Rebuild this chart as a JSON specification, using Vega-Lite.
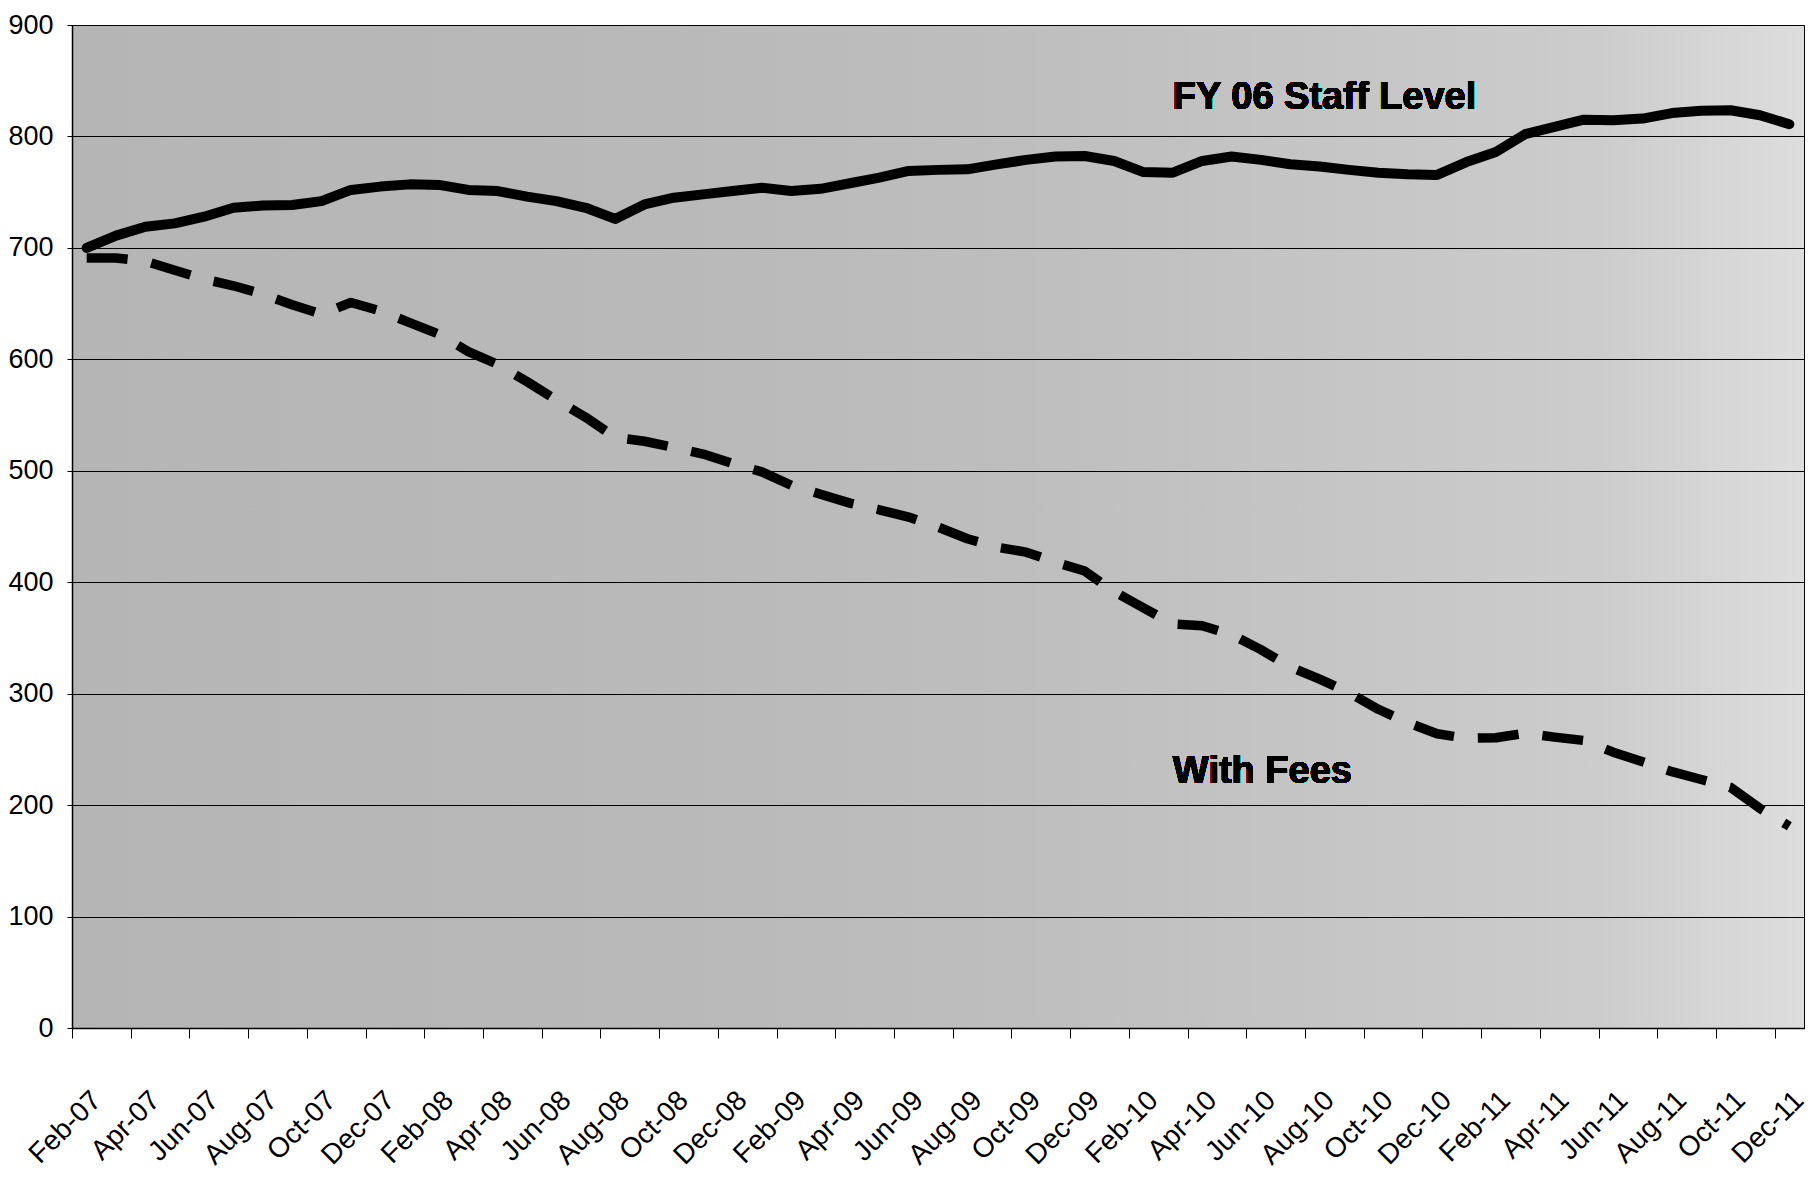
{
  "$schema": "https://vega.github.io/schema/vega-lite/v6.json",
  "width": 1732,
  "height": 1003,
  "autosize": {"type": "none"},
  "padding": {"left": 72, "top": 25, "right": 9, "bottom": 159},
  "background": "#ffffff",
  "config": {
    "view": {
      "stroke": "#000000",
      "strokeWidth": 1,
      "fill": {
        "gradient": "linear",
        "x1": 0, "y1": 0, "x2": 1, "y2": 0,
        "stops": [
          {"offset": 0, "color": "#b5b5b5"},
          {"offset": 0.35, "color": "#b9b9b9"},
          {"offset": 0.55, "color": "#bebebe"},
          {"offset": 0.7, "color": "#c4c4c4"},
          {"offset": 0.88, "color": "#cccccc"},
          {"offset": 1, "color": "#dddddd"}
        ]
      }
    }
  },
  "datasets": {
    "staff": [
      {"month": "Feb-07", "series": "FY 06 Staff Level", "value": 700},
      {"month": "Mar-07", "series": "FY 06 Staff Level", "value": 711},
      {"month": "Apr-07", "series": "FY 06 Staff Level", "value": 719},
      {"month": "May-07", "series": "FY 06 Staff Level", "value": 722},
      {"month": "Jun-07", "series": "FY 06 Staff Level", "value": 728},
      {"month": "Jul-07", "series": "FY 06 Staff Level", "value": 736},
      {"month": "Aug-07", "series": "FY 06 Staff Level", "value": 738},
      {"month": "Sep-07", "series": "FY 06 Staff Level", "value": 738.5},
      {"month": "Oct-07", "series": "FY 06 Staff Level", "value": 742},
      {"month": "Nov-07", "series": "FY 06 Staff Level", "value": 752},
      {"month": "Dec-07", "series": "FY 06 Staff Level", "value": 755},
      {"month": "Jan-08", "series": "FY 06 Staff Level", "value": 757},
      {"month": "Feb-08", "series": "FY 06 Staff Level", "value": 756.5},
      {"month": "Mar-08", "series": "FY 06 Staff Level", "value": 752},
      {"month": "Apr-08", "series": "FY 06 Staff Level", "value": 751},
      {"month": "May-08", "series": "FY 06 Staff Level", "value": 746},
      {"month": "Jun-08", "series": "FY 06 Staff Level", "value": 742},
      {"month": "Jul-08", "series": "FY 06 Staff Level", "value": 736},
      {"month": "Aug-08", "series": "FY 06 Staff Level", "value": 726},
      {"month": "Sep-08", "series": "FY 06 Staff Level", "value": 739},
      {"month": "Oct-08", "series": "FY 06 Staff Level", "value": 745},
      {"month": "Nov-08", "series": "FY 06 Staff Level", "value": 748},
      {"month": "Dec-08", "series": "FY 06 Staff Level", "value": 751},
      {"month": "Jan-09", "series": "FY 06 Staff Level", "value": 754},
      {"month": "Feb-09", "series": "FY 06 Staff Level", "value": 751},
      {"month": "Mar-09", "series": "FY 06 Staff Level", "value": 753},
      {"month": "Apr-09", "series": "FY 06 Staff Level", "value": 758},
      {"month": "May-09", "series": "FY 06 Staff Level", "value": 763},
      {"month": "Jun-09", "series": "FY 06 Staff Level", "value": 769},
      {"month": "Jul-09", "series": "FY 06 Staff Level", "value": 770},
      {"month": "Aug-09", "series": "FY 06 Staff Level", "value": 770.5},
      {"month": "Sep-09", "series": "FY 06 Staff Level", "value": 775},
      {"month": "Oct-09", "series": "FY 06 Staff Level", "value": 779},
      {"month": "Nov-09", "series": "FY 06 Staff Level", "value": 782},
      {"month": "Dec-09", "series": "FY 06 Staff Level", "value": 782.5},
      {"month": "Jan-10", "series": "FY 06 Staff Level", "value": 778},
      {"month": "Feb-10", "series": "FY 06 Staff Level", "value": 768},
      {"month": "Mar-10", "series": "FY 06 Staff Level", "value": 767.5},
      {"month": "Apr-10", "series": "FY 06 Staff Level", "value": 778},
      {"month": "May-10", "series": "FY 06 Staff Level", "value": 782},
      {"month": "Jun-10", "series": "FY 06 Staff Level", "value": 779},
      {"month": "Jul-10", "series": "FY 06 Staff Level", "value": 775},
      {"month": "Aug-10", "series": "FY 06 Staff Level", "value": 773},
      {"month": "Sep-10", "series": "FY 06 Staff Level", "value": 770},
      {"month": "Oct-10", "series": "FY 06 Staff Level", "value": 767.5},
      {"month": "Nov-10", "series": "FY 06 Staff Level", "value": 766},
      {"month": "Dec-10", "series": "FY 06 Staff Level", "value": 765.5},
      {"month": "Jan-11", "series": "FY 06 Staff Level", "value": 777},
      {"month": "Feb-11", "series": "FY 06 Staff Level", "value": 786},
      {"month": "Mar-11", "series": "FY 06 Staff Level", "value": 802},
      {"month": "Apr-11", "series": "FY 06 Staff Level", "value": 808.5},
      {"month": "May-11", "series": "FY 06 Staff Level", "value": 815},
      {"month": "Jun-11", "series": "FY 06 Staff Level", "value": 814.5},
      {"month": "Jul-11", "series": "FY 06 Staff Level", "value": 816},
      {"month": "Aug-11", "series": "FY 06 Staff Level", "value": 821},
      {"month": "Sep-11", "series": "FY 06 Staff Level", "value": 823},
      {"month": "Oct-11", "series": "FY 06 Staff Level", "value": 823.5},
      {"month": "Nov-11", "series": "FY 06 Staff Level", "value": 819},
      {"month": "Dec-11", "series": "FY 06 Staff Level", "value": 811},
      {"month": "Feb-07", "series": "With Fees", "value": 691},
      {"month": "Mar-07", "series": "With Fees", "value": 691},
      {"month": "Apr-07", "series": "With Fees", "value": 688},
      {"month": "May-07", "series": "With Fees", "value": 680},
      {"month": "Jun-07", "series": "With Fees", "value": 672},
      {"month": "Jul-07", "series": "With Fees", "value": 666},
      {"month": "Aug-07", "series": "With Fees", "value": 658.5},
      {"month": "Sep-07", "series": "With Fees", "value": 649},
      {"month": "Oct-07", "series": "With Fees", "value": 640.5},
      {"month": "Nov-07", "series": "With Fees", "value": 651},
      {"month": "Dec-07", "series": "With Fees", "value": 643.5},
      {"month": "Jan-08", "series": "With Fees", "value": 633},
      {"month": "Feb-08", "series": "With Fees", "value": 622.5},
      {"month": "Mar-08", "series": "With Fees", "value": 607},
      {"month": "Apr-08", "series": "With Fees", "value": 595.5},
      {"month": "May-08", "series": "With Fees", "value": 580},
      {"month": "Jun-08", "series": "With Fees", "value": 563.5},
      {"month": "Jul-08", "series": "With Fees", "value": 548},
      {"month": "Aug-08", "series": "With Fees", "value": 530},
      {"month": "Sep-08", "series": "With Fees", "value": 526.5},
      {"month": "Oct-08", "series": "With Fees", "value": 521},
      {"month": "Nov-08", "series": "With Fees", "value": 515},
      {"month": "Dec-08", "series": "With Fees", "value": 506.5},
      {"month": "Jan-09", "series": "With Fees", "value": 499},
      {"month": "Feb-09", "series": "With Fees", "value": 487},
      {"month": "Mar-09", "series": "With Fees", "value": 479},
      {"month": "Apr-09", "series": "With Fees", "value": 471},
      {"month": "May-09", "series": "With Fees", "value": 465},
      {"month": "Jun-09", "series": "With Fees", "value": 458.5},
      {"month": "Jul-09", "series": "With Fees", "value": 449.5},
      {"month": "Aug-09", "series": "With Fees", "value": 439},
      {"month": "Sep-09", "series": "With Fees", "value": 431.5},
      {"month": "Oct-09", "series": "With Fees", "value": 427},
      {"month": "Nov-09", "series": "With Fees", "value": 418},
      {"month": "Dec-09", "series": "With Fees", "value": 410},
      {"month": "Jan-10", "series": "With Fees", "value": 391.5},
      {"month": "Feb-10", "series": "With Fees", "value": 377},
      {"month": "Mar-10", "series": "With Fees", "value": 362.5},
      {"month": "Apr-10", "series": "With Fees", "value": 361},
      {"month": "May-10", "series": "With Fees", "value": 353},
      {"month": "Jun-10", "series": "With Fees", "value": 339.5},
      {"month": "Jul-10", "series": "With Fees", "value": 324},
      {"month": "Aug-10", "series": "With Fees", "value": 313},
      {"month": "Sep-10", "series": "With Fees", "value": 301},
      {"month": "Oct-10", "series": "With Fees", "value": 286},
      {"month": "Nov-10", "series": "With Fees", "value": 274},
      {"month": "Dec-10", "series": "With Fees", "value": 264},
      {"month": "Jan-11", "series": "With Fees", "value": 260},
      {"month": "Feb-11", "series": "With Fees", "value": 260.5},
      {"month": "Mar-11", "series": "With Fees", "value": 264.5},
      {"month": "Apr-11", "series": "With Fees", "value": 261},
      {"month": "May-11", "series": "With Fees", "value": 258},
      {"month": "Jun-11", "series": "With Fees", "value": 247.5},
      {"month": "Jul-11", "series": "With Fees", "value": 239},
      {"month": "Aug-11", "series": "With Fees", "value": 230},
      {"month": "Sep-11", "series": "With Fees", "value": 223},
      {"month": "Oct-11", "series": "With Fees", "value": 216},
      {"month": "Nov-11", "series": "With Fees", "value": 197},
      {"month": "Dec-11", "series": "With Fees", "value": 181}
    ]
  },
  "data": {"name": "staff"},
  "encoding": {
    "x": {
      "field": "month",
      "type": "ordinal",
      "sort": null,
      "scale": {
        "type": "point",
        "padding": 0.5,
        "domain": ["Feb-07","Mar-07","Apr-07","May-07","Jun-07","Jul-07","Aug-07","Sep-07","Oct-07","Nov-07","Dec-07","Jan-08","Feb-08","Mar-08","Apr-08","May-08","Jun-08","Jul-08","Aug-08","Sep-08","Oct-08","Nov-08","Dec-08","Jan-09","Feb-09","Mar-09","Apr-09","May-09","Jun-09","Jul-09","Aug-09","Sep-09","Oct-09","Nov-09","Dec-09","Jan-10","Feb-10","Mar-10","Apr-10","May-10","Jun-10","Jul-10","Aug-10","Sep-10","Oct-10","Nov-10","Dec-10","Jan-11","Feb-11","Mar-11","Apr-11","May-11","Jun-11","Jul-11","Aug-11","Sep-11","Oct-11","Nov-11","Dec-11"]
      },
      "axis": {
        "title": null,
        "values": ["Feb-07","Apr-07","Jun-07","Aug-07","Oct-07","Dec-07","Feb-08","Apr-08","Jun-08","Aug-08","Oct-08","Dec-08","Feb-09","Apr-09","Jun-09","Aug-09","Oct-09","Dec-09","Feb-10","Apr-10","Jun-10","Aug-10","Oct-10","Dec-10","Feb-11","Apr-11","Jun-11","Aug-11","Oct-11","Dec-11"],
        "grid": false,
        "labelAngle": -45,
        "labelAlign": "right",
        "labelBaseline": "top",
        "labelFont": "Liberation Sans",
        "labelFontSize": 28,
        "labelColor": "#000000",
        "labelPadding": 48,
        "labelOffset": 14.68,
        "tickOffset": -14.68,
        "tickSize": 10,
        "tickColor": "#000000",
        "tickWidth": 1,
        "domainColor": "#000000",
        "domainWidth": 1.5,
        "labelOverlap": false
      }
    },
    "y": {
      "field": "value",
      "type": "quantitative",
      "scale": {"domain": [0, 900], "nice": false, "zero": true},
      "axis": {
        "title": null,
        "values": [0, 100, 200, 300, 400, 500, 600, 700, 800, 900],
        "grid": true,
        "gridColor": "#000000",
        "gridOpacity": 1,
        "gridWidth": 1,
        "tickSize": 5,
        "tickColor": "#000000",
        "labelFont": "Liberation Sans",
        "labelFontSize": 27,
        "labelColor": "#000000",
        "labelPadding": 14,
        "domainColor": "#000000",
        "domainWidth": 1.5,
        "labelOverlap": false
      }
    }
  },
  "layer": [
    {
      "transform": [{"filter": "datum.series === 'With Fees'"}],
      "mark": {"type": "line", "color": "#000000", "strokeWidth": 9.5, "strokeDash": [41, 24], "strokeCap": "butt", "strokeJoin": "round"}
    },
    {
      "transform": [{"filter": "datum.series === 'FY 06 Staff Level'"}],
      "mark": {"type": "line", "color": "#000000", "strokeWidth": 10, "strokeCap": "round", "strokeJoin": "round"}
    },
    {
      "mark": {"type": "text", "text": "FY 06 Staff Level", "font": "Liberation Sans", "fontWeight": "bold", "fontSize": 38, "align": "left", "baseline": "alphabetic", "color": "#000000"},
      "encoding": {
        "x": {"datum": "Mar-10", "type": "ordinal"},
        "y": {"datum": 825, "type": "quantitative"}
      }
    },
    {
      "mark": {"type": "text", "text": "With Fees", "font": "Liberation Sans", "fontWeight": "bold", "fontSize": 38, "align": "left", "baseline": "alphabetic", "color": "#000000"},
      "encoding": {
        "x": {"datum": "Mar-10", "type": "ordinal"},
        "y": {"datum": 219.5, "type": "quantitative"}
      }
    }
  ]
}
